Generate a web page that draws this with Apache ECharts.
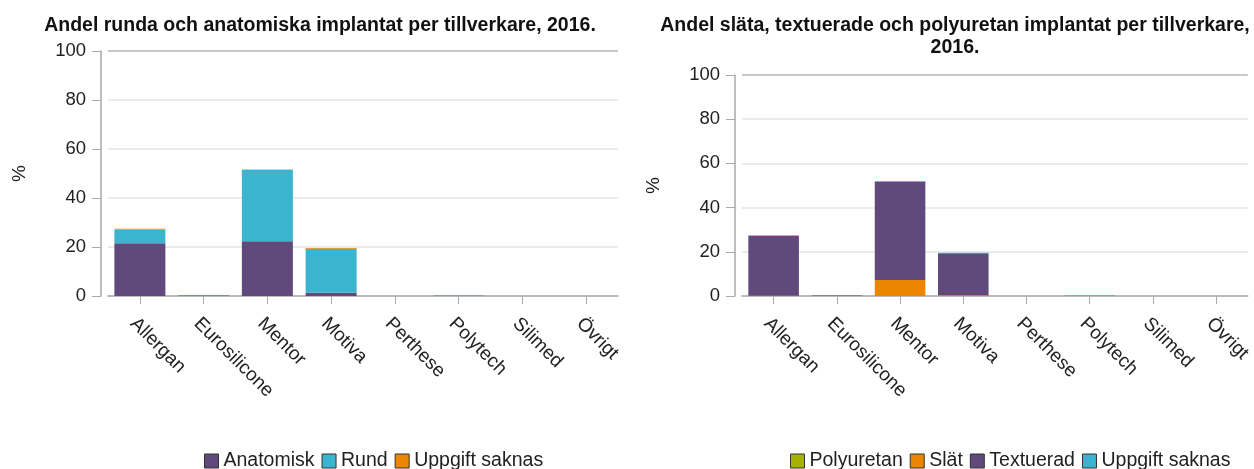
<!DOCTYPE html>
<html lang="sv">
<head>
    <meta charset="UTF-8">
    <title>Implantat per tillverkare 2016</title>
    <script src="https://cdn.jsdelivr.net/npm/echarts@6/dist/echarts.min.js"></script>
    <style>
        html, body { margin: 0; padding: 0; background: #fff; }
        #main { width: 1254px; height: 469px; }
    </style>
</head>
<body>
<div id="main"></div>
<script type="text/javascript">
    var chart = echarts.init(document.getElementById('main'));

    // tillverkare
    var categories = ['Allergan', 'Eurosilicone', 'Mentor', 'Motiva', 'Perthese', 'Polytech', 'Silimed', 'Övrigt'];

    // vänster diagram: runda / anatomiska (%)
    var anatomisk = [21.5, 0.2, 22.3, 1.3, 0, 0.1, 0, 0];
    var rund = [5.6, 0.2, 29.2, 18.0, 0, 0.1, 0, 0];
    var uppgiftSaknasForm = [0.4, 0, 0.1, 0.3, 0, 0, 0, 0];

    // höger diagram: släta / texturerade / polyuretan (%)
    var polyuretan = [0, 0, 0, 0, 0, 0, 0, 0];
    var slat = [0.1, 0, 7.2, 0.3, 0, 0, 0, 0];
    var textuerad = [27.2, 0.2, 44.5, 19.0, 0, 0, 0, 0];
    var uppgiftSaknasYta = [0.2, 0, 0.3, 0.3, 0, 0.3, 0, 0];

    var PURPLE = '#5f4a7b', CYAN = '#3bb4cf', ORANGE = '#ec8600', OLIVE = '#a5b300';
    var FONT = 'Liberation Sans, Arial, sans-serif';

    function yAxis(idx) {
        return {
            gridIndex: idx, type: 'value', min: 0, max: 100, interval: 20, offset: 7,
            name: '%', nameLocation: 'middle', nameGap: 72, nameRotate: 90,
            nameTextStyle: { fontSize: 19, color: '#222', fontFamily: FONT },
            axisLine: { show: true, lineStyle: { color: '#aaa', width: 1.5 } },
            axisTick: { show: true, length: 9, lineStyle: { color: '#aaa' } },
            axisLabel: { fontSize: 18.5, color: '#222', fontFamily: FONT, margin: 15 },
            splitLine: { show: true, lineStyle: { color: ['#e4e4e4', '#e4e4e4', '#e4e4e4', '#e4e4e4', '#e4e4e4', '#b5b5b5'], width: 1.5 } }
        };
    }
    function xAxis(idx) {
        return {
            gridIndex: idx, type: 'category', data: categories,
            axisLine: { show: true, lineStyle: { color: '#aaa', width: 1.5 } },
            axisTick: { show: true, alignWithLabel: true, length: 8, lineStyle: { color: '#aaa' } },
            axisLabel: { rotate: -45, fontSize: 19, color: '#222', fontFamily: FONT, margin: 18, interval: 0, verticalAlign: 'top' }
        };
    }
    function bar(name, data, color, idx, stack) {
        return {
            name: name, type: 'bar', stack: stack, data: data,
            xAxisIndex: idx, yAxisIndex: idx, barCategoryGap: '20%',
            itemStyle: { color: color },
            emphasis: { disabled: true }
        };
    }

    var legendBase = {
        top: 446, icon: 'rect', itemWidth: 14, itemHeight: 14, itemGap: 7,
        itemStyle: { borderColor: '#333', borderWidth: 1 },
        textStyle: { fontSize: 19.5, color: '#222', fontFamily: FONT }
    };

    var option = {
        animation: false,
        title: [
            {
                text: 'Andel runda och anatomiska implantat per tillverkare, 2016.',
                left: 315, textAlign: 'center', top: 10,
                textStyle: { fontSize: 19.5, fontWeight: 'bold', color: '#111', fontFamily: FONT, lineHeight: 22 }
            },
            {
                text: 'Andel släta, textuerade och polyuretan implantat per tillverkare,\n2016.',
                left: 950, textAlign: 'center', top: 10,
                textStyle: { fontSize: 19.5, fontWeight: 'bold', color: '#111', fontFamily: FONT, lineHeight: 22 }
            }
        ],
        legend: [
            Object.assign({}, legendBase, { left: 199, data: ['Anatomisk', 'Rund', 'Uppgift saknas'] }),
            Object.assign({}, legendBase, { left: 785, data: ['Polyuretan', 'Slät', 'Textuerad', 'Uppgift saknas '] })
        ],
        grid: [
            { left: 108, top: 51, width: 510, height: 245 },
            { left: 742, top: 75, width: 508, height: 221 }
        ],
        xAxis: [xAxis(0), xAxis(1)],
        yAxis: [yAxis(0), yAxis(1)],
        series: [
            bar('Anatomisk', anatomisk, PURPLE, 0, 'a'),
            bar('Rund', rund, CYAN, 0, 'a'),
            bar('Uppgift saknas', uppgiftSaknasForm, ORANGE, 0, 'a'),
            bar('Polyuretan', polyuretan, OLIVE, 1, 'b'),
            bar('Slät', slat, ORANGE, 1, 'b'),
            bar('Textuerad', textuerad, PURPLE, 1, 'b'),
            bar('Uppgift saknas ', uppgiftSaknasYta, CYAN, 1, 'b')
        ]
    };

    chart.setOption(option);
</script>
</body>
</html>
